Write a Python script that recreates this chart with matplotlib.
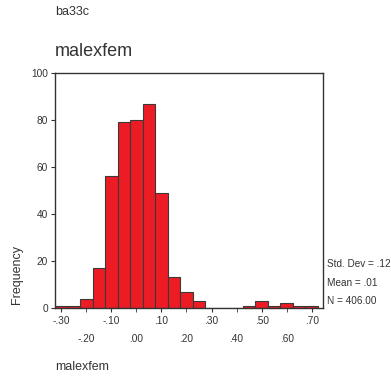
import numpy as np
import matplotlib
matplotlib.use("Agg")
import matplotlib.pyplot as plt

plt.rcParams['font.family'] = ['Liberation Sans', 'DejaVu Sans']

# histogram of malexfem, bins of width .05
bin_centers = [-0.30, -0.25, -0.20, -0.15, -0.10, -0.05, 0.00, 0.05, 0.10, 0.15,
               0.20, 0.25, 0.30, 0.35, 0.40, 0.45, 0.50, 0.55, 0.60, 0.65, 0.70]
counts = [1, 1, 4, 17, 56, 79, 80, 87, 49, 13,
          7, 3, 0, 0, 0, 1, 3, 1, 2, 1, 1]
stats = ["Std. Dev = .12", "Mean = .01", "N = 406.00"]
row1_ticks = [-0.30, -0.10, 0.10, 0.30, 0.50, 0.70]
row2_ticks = [-0.20, 0.00, 0.20, 0.40, 0.60]
y_ticks = [0, 20, 40, 60, 80, 100]

txt = '#333333'
W, H = 391, 376
fig = plt.figure(figsize=(W / 100, H / 100), dpi=100)
ax = fig.add_axes([55 / W, 1 - 308 / H, (323 - 55) / W, (308 - 73) / H])

ax.bar(bin_centers, counts, width=0.05, color='#ed1c24', edgecolor='#3a3a3a', linewidth=0.8)

ax.set_xlim(-0.325, 0.745)
ax.set_ylim(0, 100)

def fmt(v):
    return "{:.2f}".format(v).replace("0.", ".")

ax.set_xticks(row1_ticks)
ax.set_xticklabels([fmt(v) for v in row1_ticks])
ax.set_xticks(row2_ticks, minor=True)
ax.set_xticklabels([fmt(v) for v in row2_ticks], minor=True)
ax.set_yticks(y_ticks)

ax.tick_params(axis='x', which='major', length=3, pad=3, labelsize=7.3, colors=txt)
ax.tick_params(axis='x', which='minor', length=3, pad=16, labelsize=7.3, colors=txt)
ax.tick_params(axis='y', length=3, pad=2, labelsize=7.3, colors=txt)
for s in ax.spines.values():
    s.set_color('#333333')
    s.set_linewidth(1.0)

fig.text(55 / W, 1 - 12 / H, "ba33c", fontsize=9, color=txt, va='center', ha='left')
fig.text(55 / W, 1 - 51 / H, "malexfem", fontsize=13, color=txt, va='center', ha='left')
fig.text(16.5 / W, 1 - 275 / H, "Frequency", fontsize=9, color=txt, rotation=90,
         va='center', ha='center')
fig.text(55 / W, 1 - 367 / H, "malexfem", fontsize=9, color=txt, va='center', ha='left')

for i, s in enumerate(stats):
    fig.text(327 / W, 1 - (264 + 18.5 * i) / H, s, fontsize=7.2, color=txt,
             va='center', ha='left')

fig.savefig("out.png", dpi=100)
